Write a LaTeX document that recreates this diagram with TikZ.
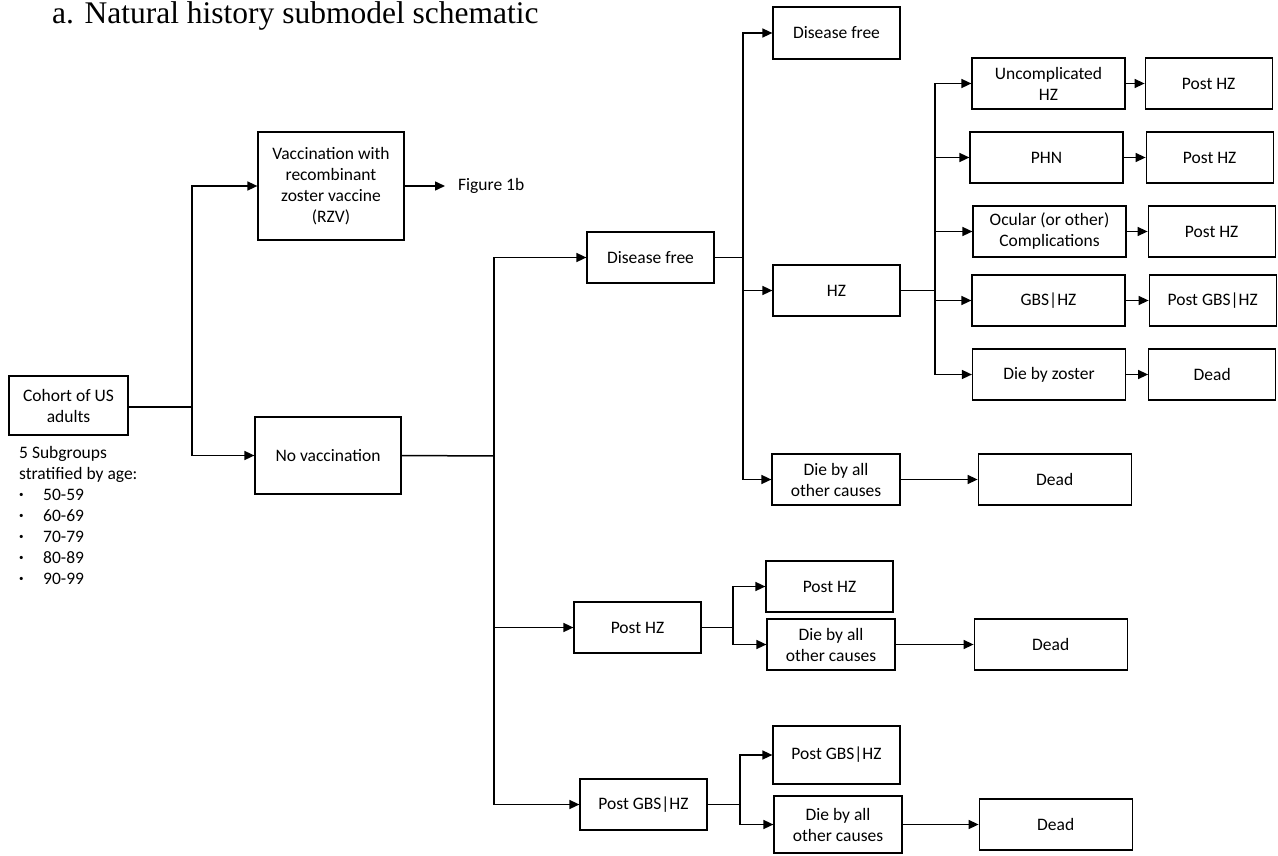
\documentclass[tikz,border=0pt]{standalone}
\usepackage{fontspec}
\setmainfont{Carlito}
\newfontfamily\titlefont{Liberation Serif}
\usetikzlibrary{arrows.meta}
\usetikzlibrary{positioning}
\tikzstyle{block} = [rectangle, draw, line width=1.2pt, minimum height=51pt, minimum width=127pt, inner sep=2pt, align=center]
\tikzstyle{wide} = [block, minimum width=153pt]
\tikzstyle{link} = [line width=1.5pt]
\tikzstyle{arrow} = [link, -{Triangle[length=10pt,width=9pt]}]
\newcommand{\agebullet}{\makebox[24pt][l]{\raisebox{2.5pt}{\small\textbullet}}}

\begin{document}
\begin{tikzpicture}[x=1pt, y=-1pt, font=\fontsize{17.5}{21}\selectfont]
   \useasboundingbox (0,0) rectangle (1278,856);
   % Title
   \node [anchor=base west, inner sep=0, font=\titlefont\fontsize{31.5}{36}\selectfont] (title) at (52,24) {a. Natural history submodel schematic};

   % Place nodes
   \node [block, minimum width=119pt, minimum height=59pt] (cohort) at (68.5,405.5) {Cohort of US\\adults};
   \node [anchor=north west, inner sep=0, align=left] (groups) at (19,446) {5 Subgroups\\stratified by age:\\
      \agebullet 50-59\\
      \agebullet 60-69\\
      \agebullet 70-79\\
      \agebullet 80-89\\
      \agebullet 90-99};
   \node [block, minimum width=146pt, minimum height=108pt] (vacc) at (331,186) {Vaccination with\\recombinant\\zoster vaccine\\(RZV)};
   \node [anchor=west, inner sep=0] (fig) at (458,186) {Figure 1b};
   \node [block, minimum width=146pt, minimum height=77pt] (novacc) at (328,455.5) {No vaccination};

   \node [block] (free) at (650.5,257.5) {Disease free};
   \node [block] (posthz) at (637.5,627.5) {Post HZ};
   \node [block] (postgbs) at (643.5,804.5) {Post GBS|HZ};

   \node [block, minimum height=52pt] (free2) at (836.5,33) {Disease free};
   \node [block] (hz) at (836.5,290.5) {HZ};
   \node [block, minimum width=128pt] (dieall1) at (836,479.5) {Die by all\\other causes};
   \node [wide, right=77pt of dieall1] (dead1) {Dead};

   \node [wide] (uncomp) at (1048.5,83.5) {Uncomplicated\\HZ};
   \node [wide] (phn) at (1046.5,157.5) {PHN};
   \node [wide] (ocular) at (1049.5,231.5) {Ocular (or other)\\Complications};
   \node [wide] (gbshz) at (1048.5,300.5) {GBS|HZ};
   \node [wide] (diezos) at (1049,374.5) {Die by zoster};
   \node [block, right=19pt of uncomp] (posthz1) {Post HZ};
   \node [block, right=22pt of phn] (posthz2) {Post HZ};
   \node [block, right=21pt of ocular] (posthz3) {Post HZ};
   \node [block, right=23pt of gbshz] (postgbs1) {Post GBS|HZ};
   \node [block, right=22pt of diezos] (dead0) {Dead};

   \node [block] (posthzleaf) at (829.5,586.5) {Post HZ};
   \node [block, minimum width=128pt] (dieall2) at (831,644.5) {Die by all\\other causes};
   \node [wide, right=78pt of dieall2] (dead2) {Dead};
   \node [block, minimum height=58pt] (postgbsleaf) at (836.5,755) {Post GBS|HZ};
   \node [block, minimum width=128pt, minimum height=57pt] (dieall3) at (838,824.5) {Die by all\\other causes};
   \node [wide, right=76pt of dieall3] (dead3) {Dead};

   % Junctions
   \coordinate (j1) at (192,407);
   \coordinate (j2) at (494,456);
   \coordinate (j3) at (743,257.5);
   \coordinate (j4) at (935,290.5);
   \coordinate (j5) at (733,627.5);
   \coordinate (j6) at (740,804.5);

   % Connectors
   \draw[link] (cohort.east |- j1) -- (j1);
   \draw[arrow] (j1) |- (vacc.west);
   \draw[arrow] (j1) |- (novacc.west);
   \draw[arrow, shorten >=13pt] (vacc.east) -- (fig.west);

   \draw[link] (novacc.east) -- (j2);
   \draw[arrow] (j2) |- (free.west);
   \draw[arrow] (j2) |- (posthz.west);
   \draw[arrow] (j2) |- (postgbs.west);

   \draw[link] (free.east) -- (j3);
   \draw[arrow] (j3) |- (free2.west);
   \draw[arrow] (j3) |- (hz.west);
   \draw[arrow] (j3) |- (dieall1.west);
   \draw[arrow] (dieall1) -- (dead1);

   \draw[link] (hz.east) -- (j4);
   \foreach \n in {uncomp,phn,ocular,gbshz,diezos}
      \draw[arrow] (j4) |- (\n.west);
   \draw[arrow] (uncomp) -- (posthz1);
   \draw[arrow] (phn) -- (posthz2);
   \draw[arrow] (ocular) -- (posthz3);
   \draw[arrow] (gbshz) -- (postgbs1);
   \draw[arrow] (diezos) -- (dead0);

   \draw[link] (posthz.east) -- (j5);
   \draw[arrow] (j5) |- (posthzleaf.west);
   \draw[arrow] (j5) |- (dieall2.west);
   \draw[arrow] (dieall2) -- (dead2);

   \draw[link] (postgbs.east) -- (j6);
   \draw[arrow] (j6) |- (postgbsleaf.west);
   \draw[arrow] (j6) |- (dieall3.west);
   \draw[arrow] (dieall3) -- (dead3);
\end{tikzpicture}
\end{document}
